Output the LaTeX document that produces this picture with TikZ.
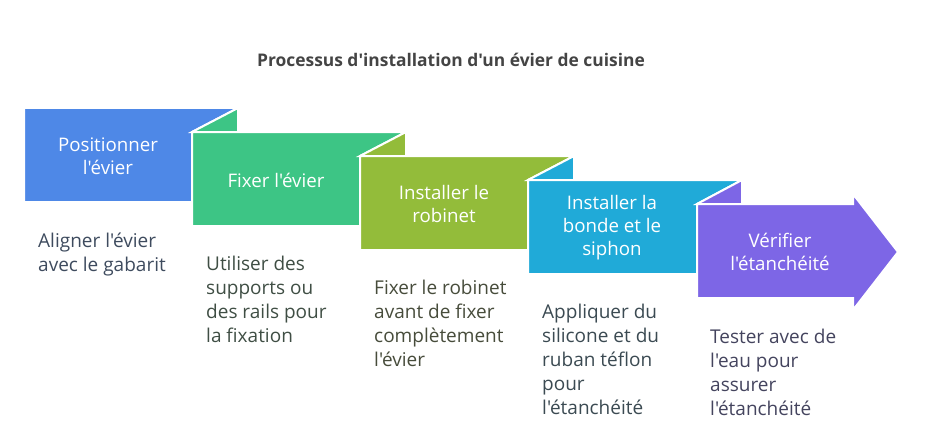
\documentclass[tikz,border=0pt]{standalone}
\usepackage{fontspec}
\setmainfont{Open Sans}[Ligatures=TeXOff]
\usepackage{xcolor}
\usepackage{tikz}
\usetikzlibrary{positioning}

\definecolor{stepblue}{HTML}{4E88E7}
\definecolor{stepgreen}{HTML}{3DC585}
\definecolor{stepolive}{HTML}{93BC3A}
\definecolor{stepcyan}{HTML}{20AAD8}
\definecolor{steppurple}{HTML}{7D66E6}
\definecolor{titlegray}{HTML}{444444}
\definecolor{descblue}{HTML}{3E4B5E}
\definecolor{descgreen}{HTML}{3F4E44}
\definecolor{descolive}{HTML}{474C3B}
\definecolor{desccyan}{HTML}{3B4A52}
\definecolor{descpurple}{HTML}{44445E}

\newcommand{\boxfont}{\fontsize{18.7}{23}\selectfont}
\newcommand{\descfont}{\fontsize{19}{24}\selectfont}

\tikzset{
    piece/.style={draw=white, line width=2pt, line join=miter},
    steplabel/.style={text=white, align=center, font=\boxfont},
    desclabel/.style={anchor=north west, inner sep=0pt, align=left, font=\descfont},
}

\begin{document}
\begin{tikzpicture}[x=1pt, y=-1pt]
    \useasboundingbox (0,0) rectangle (925,441);
    % Title
    \node[text=titlegray, font=\fontsize{17.4}{20}\selectfont\bfseries] (title) at (451,60) {Processus d'installation d'un évier de cuisine};

    % Step 1: position the sink
    \fill[stepblue, piece] (24,108) -- (238,108) -- (192,132) -- (192,202) -- (24,202) -- cycle;
    \node[steplabel] (position) at (108,156) {Positionner\\l'évier};

    % Step 2: fix the sink
    \fill[stepgreen, piece] (192,132) -- (238,108) -- (238,132) -- cycle;
    \fill[stepgreen, piece] (192,132) -- (406,132) -- (360,156) -- (360,226) -- (192,226) -- cycle;
    \node[steplabel] (fixation) at (276,180) {Fixer l'évier};

    % Step 3: faucet
    \fill[stepolive, piece] (360,156) -- (406,132) -- (406,156) -- cycle;
    \fill[stepolive, piece] (360,156) -- (574,156) -- (528,180) -- (528,250) -- (360,250) -- cycle;
    \node[steplabel] (robinet) at (444,204) {Installer le\\robinet};

    % Step 4: drain and trap
    \fill[stepcyan, piece] (528,180) -- (574,156) -- (574,180) -- cycle;
    \fill[stepcyan, piece] (528,180) -- (742,180) -- (697,204) -- (697,274) -- (528,274) -- cycle;
    \node[steplabel] (siphon) at (612,228) {Installer la\\bonde et le\\siphon};

    % Step 5: leak test (arrow head)
    \fill[steppurple, piece] (697,204) -- (742,180) -- (742,204) -- cycle;
    \fill[steppurple, piece] (697,204) -- (853,204) -- (853,194) -- (898,252) -- (853,310) -- (853,298) -- (697,298) -- cycle;
    \node[steplabel] (test) at (780,252) {Vérifier\\l'étanchéité};

    % Descriptions under each step
    \node[desclabel, text=descblue] (alignDesc) at (38,230) {\strut Aligner l'évier\\avec le gabarit};
    \node[desclabel, text=descgreen] (supportDesc) at (206,253) {\strut Utiliser des\\supports ou\\des rails pour\\la fixation};
    \node[desclabel, text=descolive] (robinetDesc) at (374,277) {\strut Fixer le robinet\\avant de fixer\\complètement\\l'évier};
    \node[desclabel, text=desccyan] (siliconeDesc) at (542,301) {\strut Appliquer du\\silicone et du\\ruban téflon\\pour\\l'étanchéité};
    \node[desclabel, text=descpurple] (testDesc) at (710,326) {\strut Tester avec de\\l'eau pour\\assurer\\l'étanchéité};
\end{tikzpicture}
\end{document}
